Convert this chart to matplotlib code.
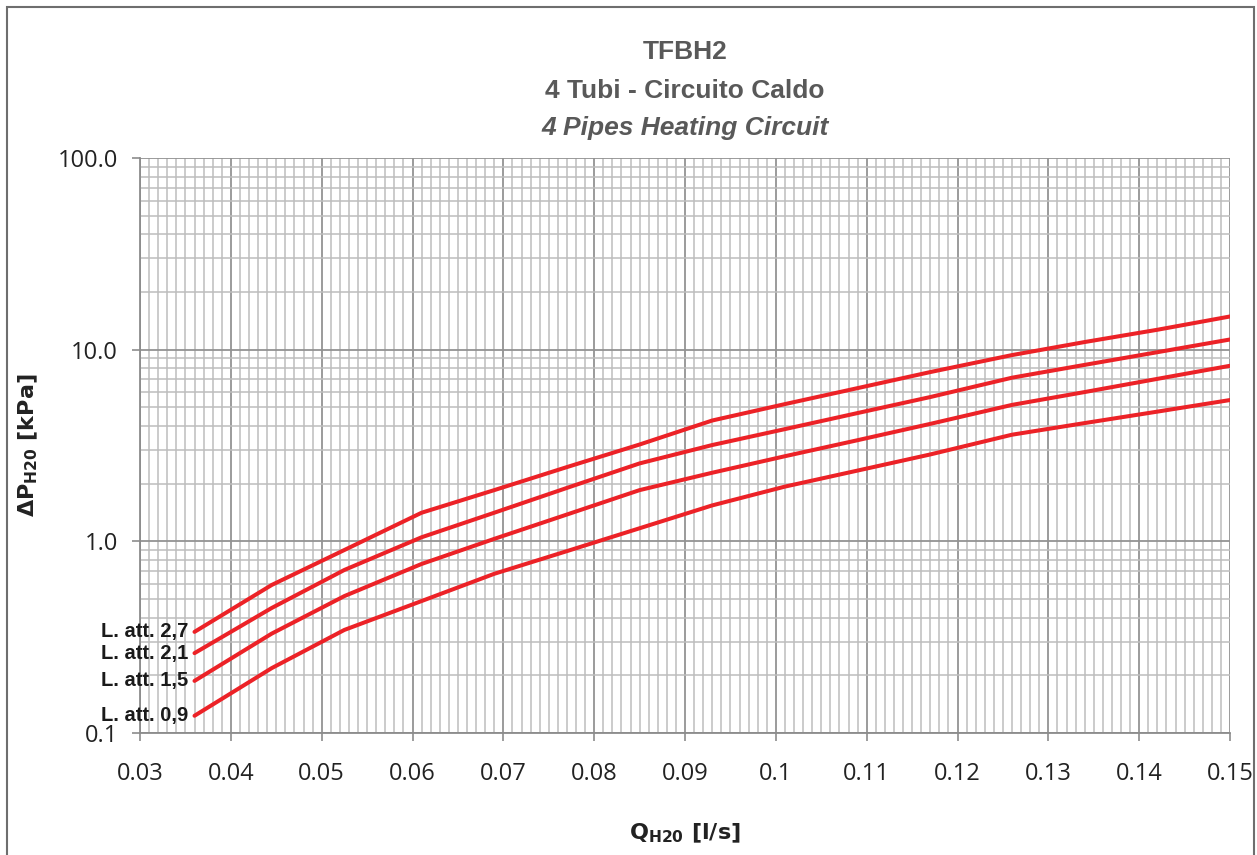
import numpy as np
import matplotlib
matplotlib.use('Agg')
import matplotlib.pyplot as plt
from matplotlib.ticker import FixedLocator, MultipleLocator, LogLocator, NullFormatter, FuncFormatter
from matplotlib.patches import Rectangle

# Flow rate [l/s]
flow = [0.036, 0.0445, 0.0525, 0.061, 0.069, 0.077, 0.085, 0.093,
        0.101, 0.109, 0.117, 0.126, 0.134, 0.142, 0.150]

# Pressure drop [kPa] for each valve setting
dp_27 = [0.337, 0.592, 0.901, 1.41, 1.85, 2.44, 3.20, 4.27,
         5.20, 6.30, 7.64, 9.37, 10.96, 12.7, 14.9]
dp_21 = [0.261, 0.449, 0.709, 1.05, 1.41, 1.90, 2.55, 3.18,
         3.85, 4.67, 5.66, 7.14, 8.33, 9.70, 11.3]
dp_15 = [0.187, 0.330, 0.518, 0.762, 1.03, 1.38, 1.85, 2.28,
         2.78, 3.37, 4.10, 5.15, 6.01, 7.04, 8.24]
dp_09 = [0.123, 0.218, 0.345, 0.488, 0.677, 0.889, 1.17, 1.54,
         1.93, 2.34, 2.84, 3.60, 4.14, 4.75, 5.46]

series = [dp_27, dp_21, dp_15, dp_09]
labels = ['L. att. 2,7', 'L. att. 2,1', 'L. att. 1,5', 'L. att. 0,9']

x_ticks = [0.03, 0.04, 0.05, 0.06, 0.07, 0.08, 0.09, 0.1, 0.11, 0.12, 0.13, 0.14, 0.15]
y_ticks = [0.1, 1, 10, 100]

W, H = 1257, 855
fig = plt.figure(figsize=(W / 100, H / 100), dpi=100)
ax = fig.add_axes([140 / W, 1 - 733 / H, 1090 / W, 575 / H])

red = '#ec2227'
label_font = ['Liberation Sans Narrow', 'Liberation Sans', 'DejaVu Sans']
for vals, lab in zip(series, labels):
    ax.plot(flow, vals, color=red, lw=2.9, solid_capstyle='round', zorder=3)
    ax.text(flow[0] - 0.0007, vals[0], lab, ha='right', va='center',
            fontsize=14.5, fontweight='bold', color='#1a1a1a',
            family=label_font, zorder=4)

ax.set_yscale('log')
ax.set_xlim(0.03, 0.15)
ax.set_ylim(0.1, 100)

ax.xaxis.set_major_locator(FixedLocator(x_ticks))
ax.xaxis.set_minor_locator(MultipleLocator(0.001))
ax.xaxis.set_major_formatter(FuncFormatter(lambda v, p: f'{round(v, 2):g}'))
ax.yaxis.set_major_locator(FixedLocator(y_ticks))
ax.yaxis.set_minor_locator(LogLocator(base=10, subs=np.arange(2, 10), numticks=20))
ax.yaxis.set_major_formatter(FuncFormatter(lambda v, p: f'{v:.1f}'))
ax.yaxis.set_minor_formatter(NullFormatter())

ax.grid(which='minor', color='#bdbdbd', lw=1.1)
ax.grid(which='major', color='#939393', lw=1.3)
ax.set_axisbelow(True)

for s in ['top', 'right']:
    ax.spines[s].set_visible(False)
for s in ['left', 'bottom']:
    ax.spines[s].set_color('#8c8c8c')
    ax.spines[s].set_linewidth(1.3)

tick_font = ['Open Sans', 'DejaVu Sans']
ax.tick_params(which='major', axis='x', length=6, width=1.2, color='#8c8c8c',
               pad=15, labelsize=17, labelcolor='#222222')
ax.tick_params(which='major', axis='y', length=6, width=1.2, color='#8c8c8c',
               pad=10, labelsize=17, labelcolor='#222222')
ax.tick_params(which='minor', length=0)
for t in ax.get_xticklabels() + ax.get_yticklabels():
    t.set_family(tick_font)

ax.set_xlabel(r'$\mathbf{Q}_{\mathbf{H20}}$ [l/s]', fontsize=16, fontweight='bold',
              color='#222222')
ax.set_ylabel(r'$\mathbf{\Delta P}_{\mathbf{H20}}$ [kPa]', fontsize=16, fontweight='bold',
              color='#222222')
ax.xaxis.set_label_coords(0.5, (733 - 822) / 575)
ax.yaxis.set_label_coords((40 - 140) / 1090, 0.5)

title_font = ['Liberation Sans Narrow', 'Liberation Sans', 'DejaVu Sans']
cx = 685 / W
fig.text(cx, 1 - 52 / H, 'TFBH2', ha='center', va='center', fontsize=19,
         fontweight='bold', color='#595959', family=title_font)
fig.text(cx, 1 - 91 / H, '4 Tubi - Circuito Caldo', ha='center', va='center', fontsize=19,
         fontweight='bold', color='#595959', family=title_font)
fig.text(cx, 1 - 128 / H, '4 Pipes Heating Circuit', ha='center', va='center', fontsize=19,
         fontweight='bold', style='italic', color='#595959', family=title_font)

fig.patches.append(Rectangle((7 / W, -0.02), 1 - 10 / W, 1 - 7 / H + 0.02,
                             transform=fig.transFigure, fill=False,
                             edgecolor='#6e6e6e', lw=1.5))

fig.savefig('out.png', dpi=100)
